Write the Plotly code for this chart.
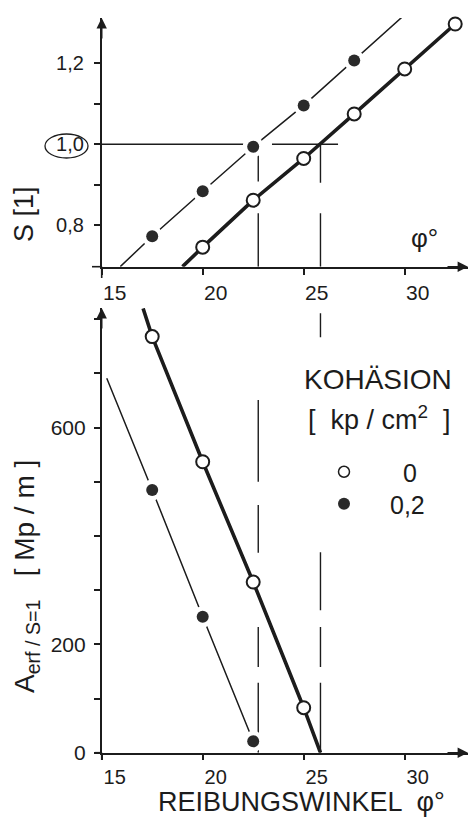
import plotly.graph_objects as go

W, H = 473, 818

# ---------------- data ----------------
# upper diagram: safety factor S vs friction angle phi
phi_c0_top = [20, 22.5, 25, 27.5, 30, 32.5]
S_c0 = [0.746, 0.862, 0.965, 1.075, 1.186, 1.297]
phi_c02_top = [17.5, 20, 22.5, 25, 27.5, 30]
S_c02 = [0.773, 0.884, 0.994, 1.096, 1.207, 1.320]
# drawn curves (extend to the axis)
curve_phi_c0_top = [19.0] + phi_c0_top
curve_S_c0 = [0.698] + S_c0
curve_phi_c02_top = [15.92] + phi_c02_top
curve_S_c02 = [0.698] + S_c02

# lower diagram: required anchor force A_erf/S=1 vs friction angle
phi_c0_bot = [17.5, 20, 22.5, 25]
A_c0 = [768, 537, 315, 83]
phi_c02_bot = [17.5, 20, 22.5]
A_c02 = [485, 251, 21]
curve_phi_c0_bot = [17.05] + phi_c0_bot + [25.83]
curve_A_c0 = [820] + A_c0 + [0]
curve_phi_c02_bot = [15.25] + phi_c02_bot
curve_A_c02 = [691] + A_c02

# phi where S = 1 (c = 0.2 and c = 0)
phi_star = [22.75, 25.83]

# tick labels
x_ticks = [15, 20, 25, 30]
x_ticklabels = ["15", "20", "25", "30"]
s_ticks = [0.8, 0.9, 1.0, 1.1, 1.2]
s_ticklabels = ["0,8", "", "1,0", "", "1,2"]
a_ticks = [0, 100, 200, 300, 400, 500, 600, 700, 800]
a_ticklabels = ["0", "", "200", "", "", "", "600", "", ""]

legend_names = ["0", "0,2"]

# ---------------- geometry ----------------
INK = "#1c1c1c"
FONT = "Liberation Sans, Arial, sans-serif"

def px(x):
    return x / W

def py(y):
    return 1 - y / H

xdom = [px(101.7), px(468)]
xrange_ = [15, 15 + (468 - 101.7) / 20.2]
ydom_top = [py(266.7), py(18)]
yrange_top = [1 - (266.7 - 144.3) / 405, 1 + (144.3 - 18) / 405]
ydom_bot = [py(752.7), py(308)]
yrange_bot = [0, (752.7 - 308) / 0.5418]

fig = go.Figure()

def add_series(xc, yc, xp, yp, xa, ya, width, filled, name):
    fig.add_trace(go.Scatter(x=xc, y=yc, mode="lines", xaxis=xa, yaxis=ya, cliponaxis=False,
                             line=dict(color=INK, width=width), showlegend=False,
                             hoverinfo="skip"))
    if filled:
        fig.add_trace(go.Scatter(x=xp, y=yp, mode="markers", xaxis=xa, yaxis=ya, cliponaxis=False,
                                 marker=dict(size=21, color="white"), showlegend=False,
                                 hoverinfo="skip"))
        fig.add_trace(go.Scatter(x=xp, y=yp, mode="markers", xaxis=xa, yaxis=ya, cliponaxis=False,
                                 marker=dict(size=12, color="#2a2a2a", line=dict(width=0)),
                                 showlegend=False, name=name))
    else:
        fig.add_trace(go.Scatter(x=xp, y=yp, mode="markers", xaxis=xa, yaxis=ya, cliponaxis=False,
                                 marker=dict(size=13, color="white",
                                             line=dict(width=2, color=INK)),
                                 showlegend=False, name=name))

add_series(curve_phi_c02_top, curve_S_c02, phi_c02_top, S_c02, "x", "y", 1.5, True, "0,2")
add_series(curve_phi_c0_top, curve_S_c0, phi_c0_top, S_c0, "x", "y", 3.6, False, "0")
add_series(curve_phi_c02_bot, curve_A_c02, phi_c02_bot, A_c02, "x2", "y2", 1.5, True, "0,2")
add_series(curve_phi_c0_bot, curve_A_c0, phi_c0_bot, A_c0, "x2", "y2", 3.6, False, "0")

# legend-only entries (one legend per row)
fig.add_trace(go.Scatter(x=[None], y=[None], mode="markers", name=legend_names[0],
                         marker=dict(size=11, color="white", line=dict(width=1.5, color=INK)),
                         xaxis="x2", yaxis="y2", legend="legend"))
fig.add_trace(go.Scatter(x=[None], y=[None], mode="markers", name=legend_names[1],
                         marker=dict(size=12, color="#2a2a2a"), xaxis="x2", yaxis="y2",
                         legend="legend2"))

shapes = []
lw = 1.4
# S = 1 reference line (with small break)
shapes.append(dict(type="line", xref="x", yref="y", x0=15, x1=22.84, y0=1.0, y1=1.0,
                   line=dict(color=INK, width=lw), layer="below"))
shapes.append(dict(type="line", xref="x", yref="y", x0=23.43, x1=26.7, y0=1.0, y1=1.0,
                   line=dict(color=INK, width=lw), layer="below"))
# vertical dashed reference lines, upper diagram
top_segs = {0: [(0.994, 0.908), (0.830, yrange_top[0])],
            1: [(1.0, 0.905), (0.830, yrange_top[0])]}
for i, segs in top_segs.items():
    for y0, y1 in segs:
        shapes.append(dict(type="line", xref="x", yref="y", x0=phi_star[i], x1=phi_star[i],
                           y0=y0, y1=y1, line=dict(color=INK, width=lw), layer="below"))
# vertical dashed reference lines, lower diagram
bot_segs = {0: [(651, 500), (457, 369), (232, 158), (129, 0)],
            1: [(811, 767), (370, 263), (232, 158), (129, 0)]}
for i, segs in bot_segs.items():
    for y0, y1 in segs:
        shapes.append(dict(type="line", xref="x2", yref="y2", x0=phi_star[i], x1=phi_star[i],
                           y0=y0, y1=y1, line=dict(color=INK, width=lw), layer="below"))
# axis overhangs
shapes.append(dict(type="line", xref="paper", yref="paper", x0=px(92), x1=px(101.7),
                   y0=py(266.7), y1=py(266.7), line=dict(color=INK, width=1.6)))
shapes.append(dict(type="line", xref="paper", yref="paper", x0=px(101.7), x1=px(101.7),
                   y0=py(266.7), y1=py(278), line=dict(color=INK, width=1.6)))
shapes.append(dict(type="line", xref="paper", yref="paper", x0=px(95), x1=px(101.7),
                   y0=py(752.7), y1=py(752.7), line=dict(color=INK, width=1.6)))
shapes.append(dict(type="line", xref="paper", yref="paper", x0=px(101.7), x1=px(101.7),
                   y0=py(752.7), y1=py(760), line=dict(color=INK, width=1.6)))
# circle around 1,0
shapes.append(dict(type="circle", xref="paper", yref="paper", x0=px(45), x1=px(88),
                   y0=py(158), y1=py(134), line=dict(color=INK, width=1.3)))

annotations = []
# axis arrow heads
for (xt, yt, axp, ayp) in [(468, 266.7, -22, 0), (101.7, 18, 0, 22),
                           (468, 752.7, -22, 0), (101.7, 308, 0, 22)]:
    annotations.append(dict(xref="paper", yref="paper", x=px(xt), y=py(yt), ax=axp, ay=ayp,
                            text="", showarrow=True, arrowhead=2, arrowsize=1.3,
                            arrowwidth=1.6, arrowcolor=INK))

def txt(x, y, s, size, angle=0, xanchor="center"):
    annotations.append(dict(xref="paper", yref="paper", x=px(x), y=py(y), text=s,
                            showarrow=False, textangle=angle, xanchor=xanchor,
                            yanchor="middle", font=dict(size=size, color=INK, family=FONT)))

txt(24, 214, "S [1]", 27, angle=-90)
txt(26, 577, "A<sub>erf / S=1</sub>   [ Mp / m ]", 28, angle=-90)
txt(424, 238, "φ°", 26)
txt(301, 802, "REIBUNGSWINKEL  φ°", 27)
txt(378, 379, "KOHÄSION", 28)
txt(379, 418, "[  kp / cm<sup>2</sup>  ]", 27)

axis_common = dict(showline=True, linecolor=INK, linewidth=1.6, showgrid=False,
                   zeroline=False, ticks="outside", tickcolor=INK,
                   tickwidth=1.5, fixedrange=True, automargin=False)

legend_common = dict(xanchor="left", yanchor="middle", bgcolor="rgba(0,0,0,0)",
                     font=dict(size=25, color=INK, family=FONT), tracegroupgap=0)

fig.update_layout(
    width=W, height=H,
    margin=dict(l=0, r=0, t=0, b=0),
    paper_bgcolor="white", plot_bgcolor="white",
    font=dict(family=FONT, color=INK),
    showlegend=True,
    legend=dict(x=px(285), y=py(472), itemwidth=108, **legend_common),
    legend2=dict(x=px(298), y=py(504), itemwidth=82, **legend_common),
    xaxis=dict(domain=xdom, range=xrange_, anchor="y", tickvals=x_ticks,
               ticktext=x_ticklabels, tickfont=dict(size=21, color=INK), ticklen=6,
               ticklabelshift=13, ticklabelstandoff=0, **axis_common),
    yaxis=dict(domain=ydom_top, range=yrange_top, anchor="x", tickvals=s_ticks,
               ticktext=s_ticklabels, tickfont=dict(size=20, color=INK), ticklen=6,
               ticklabelstandoff=6, **axis_common),
    xaxis2=dict(domain=xdom, range=xrange_, anchor="y2", tickvals=x_ticks,
                ticktext=x_ticklabels, tickfont=dict(size=20, color=INK), ticklen=5,
                ticklabelshift=13, ticklabelstandoff=0, **axis_common),
    yaxis2=dict(domain=ydom_bot, range=yrange_bot, anchor="x2", tickvals=a_ticks,
                ticktext=a_ticklabels, tickfont=dict(size=21, color=INK), ticklen=6,
                ticklabelstandoff=4, **axis_common),
    shapes=shapes,
    annotations=annotations,
)

fig.write_html("out.html", config={"displayModeBar": False},
               post_script="document.body.style.margin='0';document.body.style.overflow='hidden';")
